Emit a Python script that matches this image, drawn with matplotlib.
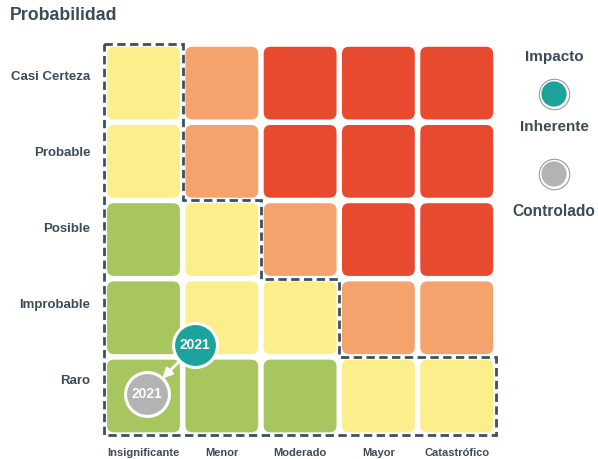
import matplotlib.pyplot as plt
from matplotlib.patches import FancyBboxPatch

plt.rcParams['font.family'] = ['Liberation Sans', 'DejaVu Sans']
plt.rcParams['font.weight'] = 'bold'

impacto = ['Insignificante', 'Menor', 'Moderado', 'Mayor', 'Catastrófico']
probabilidad = ['Raro', 'Improbable', 'Posible', 'Probable', 'Casi Certeza']

# risk level per cell: rows = probabilidad (Raro -> Casi Certeza), cols = impacto
niveles = [
    [0, 0, 0, 1, 1],
    [0, 1, 1, 2, 2],
    [0, 1, 2, 3, 3],
    [1, 2, 3, 3, 3],
    [1, 2, 3, 3, 3],
]
colores_nivel = ['#a7c65f', '#fdee8c', '#f4a36c', '#e84a30']

# low-risk zone boundary (cell edges)
zona_x = [-0.5, 0.5, 0.5, 1.5, 1.5, 2.5, 2.5, 4.5, 4.5, -0.5, -0.5]
zona_y = [4.5, 4.5, 2.5, 2.5, 1.5, 1.5, 0.5, 0.5, -0.5, -0.5, 4.5]

# positions (impact, probability) of the 2021 risk
inherente = (0.66, 0.65)
controlado = (0.04, 0.02)
anio = '2021'

texto = '#3c4b57'
teal = '#1ba39c'
gris = '#b3b3b3'

fig = plt.figure(figsize=(5.98, 4.59), dpi=100)
ax = fig.add_axes([0.1745, 0.0521, 0.6547, 0.852])
ax.set_xlim(-0.5, 4.5)
ax.set_ylim(-0.5, 4.5)
ax.axis('off')

lado = 0.93
for r, fila in enumerate(niveles):
    for c, nivel in enumerate(fila):
        ax.add_patch(FancyBboxPatch((c - lado / 2, r - lado / 2), lado, lado,
                                    boxstyle='round,pad=0,rounding_size=0.09',
                                    fc=colores_nivel[nivel], ec='none', zorder=1))

ax.plot(zona_x, zona_y, color='#3e505d', lw=2.0, linestyle=(0, (3.0, 1.6)),
        clip_on=False, zorder=2, solid_joinstyle='miter', dash_joinstyle='miter')

# row labels sit slightly above the row centres, as in the original
for i, lab in enumerate(probabilidad):
    ax.text(-0.68, 0.19 + 0.973 * i, lab, ha='right', va='center', fontsize=9.5, color=texto)
for i, lab in enumerate(impacto):
    ax.text(i, -0.73, lab, ha='center', va='center', fontsize=8, color=texto)

ax.annotate('', xy=controlado, xytext=inherente,
            arrowprops=dict(arrowstyle='-|>', color='white', lw=2, mutation_scale=14,
                            shrinkA=17, shrinkB=16), zorder=3)
ax.scatter(*inherente, s=1000, color=teal, edgecolors='white', linewidths=2.2, zorder=4, clip_on=False)
ax.scatter(*controlado, s=1000, color=gris, edgecolors='white', linewidths=2.2, zorder=4, clip_on=False)
ax.text(*inherente, anio, ha='center', va='center', color='white', fontsize=10, zorder=5)
ax.text(*controlado, anio, ha='center', va='center', color='white', fontsize=10, zorder=5)

fig.text(10 / 598, 1 - 15 / 459, 'Probabilidad', ha='left', va='center', fontsize=12.8, color=texto)

# legend
leg = fig.add_axes([0, 0, 1, 1], facecolor='none')
leg.set_xlim(0, 598)
leg.set_ylim(459, 0)
leg.axis('off')
leg.text(554, 57, 'Impacto', ha='center', va='center', fontsize=11, color=texto)
leg.scatter([554, 554], [94, 174], s=480, color='white', edgecolors='#9a9a9a', linewidths=0.8)
leg.scatter([554, 554], [94, 174], s=330, color=[teal, gris], edgecolors='none')
leg.text(554, 127, 'Inherente', ha='center', va='center', fontsize=11, color=texto)
leg.text(554, 211, 'Controlado', ha='center', va='center', fontsize=11.2, color=texto)

fig.savefig('out.png', dpi=100)
